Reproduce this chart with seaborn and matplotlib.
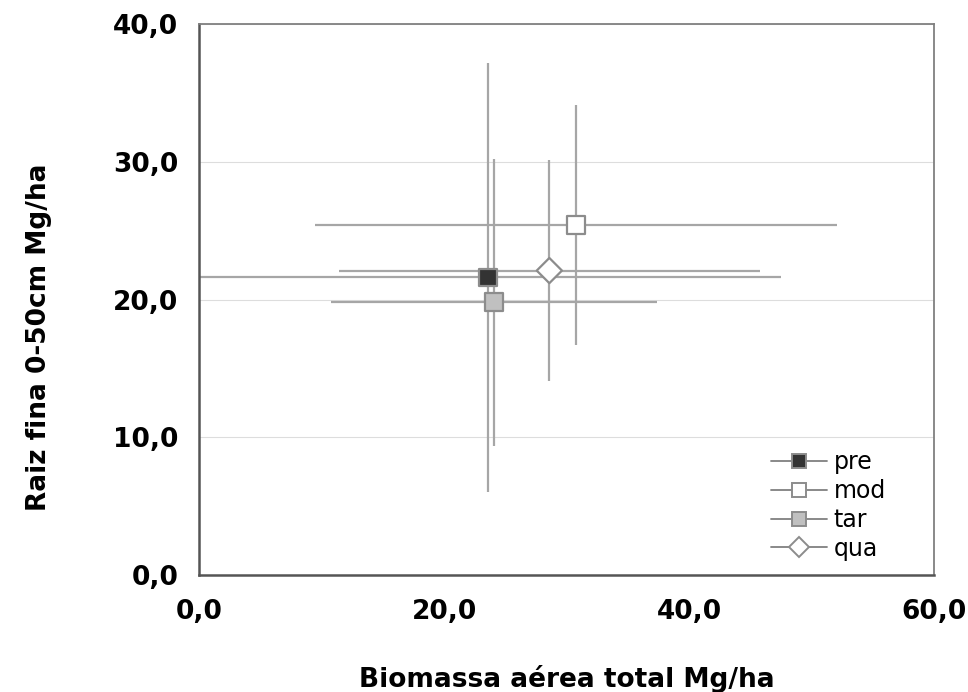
import numpy as np
import pandas as pd
import matplotlib
matplotlib.use("Agg")
import matplotlib.pyplot as plt
from matplotlib.lines import Line2D
import seaborn as sns

# Values (mean +/- error)
treatments = ['pre', 'mod', 'tar', 'qua']
biomassa = [23.6, 30.8, 24.1, 28.6]
biomassa_err = [23.9, 21.3, 13.3, 17.2]
raiz = [21.6, 25.4, 19.8, 22.1]
raiz_err = [15.6, 8.7, 10.4, 8.0]

xticks = [0, 20, 40, 60]
yticks = [0, 10, 20, 30, 40]

df = pd.DataFrame({'trat': treatments, 'x': biomassa, 'xerr': biomassa_err,
                   'y': raiz, 'yerr': raiz_err})

face_colors = {'pre': '#333333', 'mod': '#ffffff', 'tar': '#c0c0c0', 'qua': '#ffffff'}
markers = {'pre': 's', 'mod': 's', 'tar': 's', 'qua': 'D'}
edge = '#8c8c8c'
bar_color = '#a6a6a6'

sns.set_style("white")
plt.rcParams['font.family'] = ['DejaVu Sans']
plt.rcParams['text.color'] = 'black'
plt.rcParams['xtick.color'] = 'black'
plt.rcParams['ytick.color'] = 'black'
plt.rcParams['axes.labelcolor'] = 'black'

fig = plt.figure(figsize=(9.68, 6.92), dpi=100)
ax = fig.add_axes([199 / 968, 1 - 575 / 692, 735 / 968, 551 / 692])

# error bars first (they sit under the markers)
for _, r in df.iterrows():
    ax.errorbar(r['x'], r['y'], xerr=r['xerr'], yerr=r['yerr'], fmt='none',
                ecolor=bar_color, elinewidth=1.6, capsize=0, zorder=2)

sns.scatterplot(data=df, x='x', y='y', hue='trat', style='trat',
                palette=face_colors, markers=markers, s=165,
                edgecolor=edge, linewidth=1.6, legend=False, ax=ax, zorder=3)

ax.set_xlim(0, 60)
ax.set_ylim(0, 40)
ax.set_xticks(xticks)
ax.set_yticks(yticks)
ax.set_xticklabels([f"{v:.1f}".replace('.', ',') for v in xticks])
ax.set_yticklabels([f"{v:.1f}".replace('.', ',') for v in yticks])
ax.tick_params(axis='both', direction='in', length=6, width=1, color='#444444',
               labelsize=19, labelcolor='black')
ax.tick_params(axis='x', pad=17)
ax.tick_params(axis='y', pad=15)
for lab in ax.get_xticklabels() + ax.get_yticklabels():
    lab.set_fontweight('bold')

ax.yaxis.grid(True, color='#dddddd', linewidth=0.8)
ax.xaxis.grid(False)
ax.set_axisbelow(True)

for side in ['left', 'bottom']:
    ax.spines[side].set_color('#555555')
    ax.spines[side].set_linewidth(1.8)
for side in ['top', 'right']:
    ax.spines[side].set_color('#808080')
    ax.spines[side].set_linewidth(1.3)

ax.set_xlabel('Biomassa aérea total Mg/ha', fontsize=19, fontweight='bold')
ax.set_ylabel('Raiz fina 0-50cm Mg/ha', fontsize=19, fontweight='bold')
ax.xaxis.set_label_coords(0.5, -0.164)
ax.yaxis.set_label_coords(-0.2, 0.431)

handles = [Line2D([0], [0], color='#808080', linewidth=1.3, marker=markers[t],
                  markersize=10, markerfacecolor=face_colors[t],
                  markeredgecolor=edge, markeredgewidth=1.4)
           for t in treatments]
ax.legend(handles, treatments, loc='upper left', bbox_to_anchor=(0.778, 0.226),
          frameon=False, fontsize=17, handlelength=2.4, handletextpad=0.25,
          labelspacing=0.2, borderpad=0, borderaxespad=0)

fig.savefig('out.png', dpi=100)
